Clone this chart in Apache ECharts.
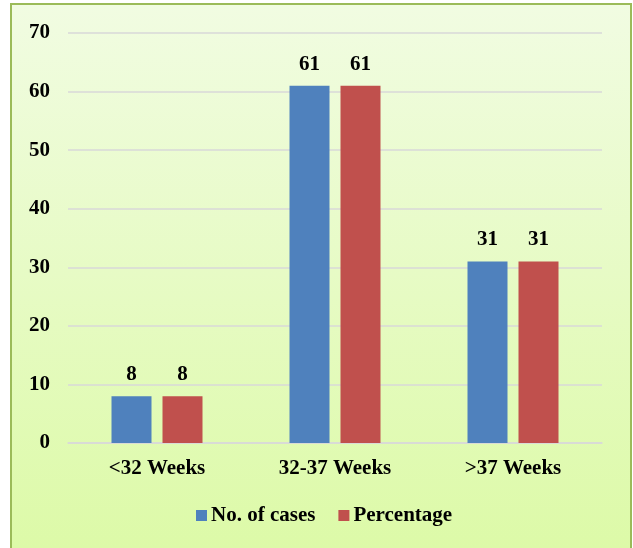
<!DOCTYPE html>
<html>
<head>
<meta charset="utf-8">
<script src="https://cdn.jsdelivr.net/npm/echarts@6/dist/echarts.min.js"></script>
<style>
  html, body { margin: 0; padding: 0; background: #fff; }
  #chart { width: 633px; height: 548px; }
</style>
</head>
<body>
<div id="chart"></div>
<script>
// data
const categories = ['<32 Weeks', '32-37 Weeks', '>37 Weeks'];
const seriesNames = ['No. of cases', 'Percentage'];
const cases = [8, 61, 31];
const percentage = [8, 61, 31];
const yTicks = [0, 10, 20, 30, 40, 50, 60, 70];

const colorList = ['#4F81BD', '#C0504D'];
const font = '"Liberation Serif", "Times New Roman", serif';

const chart = echarts.init(document.getElementById('chart'));

const barLabel = {
  show: true,
  position: 'top',
  distance: 11,
  color: '#000',
  fontFamily: font,
  fontWeight: 'bold',
  fontSize: 21
};

const option = {
  backgroundColor: '#fff',
  animation: false,
  graphic: [
    {
      type: 'rect',
      z: -10,
      silent: true,
      shape: { x: 11, y: 4, width: 620, height: 560 },
      style: {
        fill: new echarts.graphic.LinearGradient(0, 0, 0, 1, [
          { offset: 0, color: '#F1FCE2' },
          { offset: 1, color: '#DCFAA6' }
        ]),
        stroke: '#9BBB59',
        lineWidth: 2
      }
    }
  ],
  grid: {
    left: 68,
    right: 31,
    top: 33,
    bottom: 105
  },
  legend: {
    bottom: 17,
    left: 191,
    itemWidth: 11,
    itemHeight: 11,
    itemGap: 23,
    icon: 'rect',
    textStyle: {
      color: '#000',
      fontFamily: font,
      fontWeight: 'bold',
      fontSize: 21,
      padding: [0, 0, 0, -1]
    },
    data: seriesNames
  },
  xAxis: {
    type: 'category',
    data: categories,
    axisTick: { show: false },
    axisLine: { lineStyle: { color: '#D9D9D9', width: 1.5 } },
    axisLabel: {
      margin: 15,
      color: '#000',
      fontFamily: font,
      fontWeight: 'bold',
      fontSize: 21
    }
  },
  yAxis: {
    type: 'value',
    min: yTicks[0],
    max: yTicks[yTicks.length - 1],
    interval: 10,
    axisLine: { show: false },
    axisTick: { show: false },
    splitLine: { lineStyle: { color: '#D9D9D9', width: 1.5 } },
    axisLabel: {
      margin: 18,
      color: '#000',
      fontFamily: font,
      fontWeight: 'bold',
      fontSize: 21
    }
  },
  series: [
    {
      name: seriesNames[0],
      type: 'bar',
      data: cases,
      barWidth: 40,
      barGap: '27.5%',
      itemStyle: { color: colorList[0] },
      label: barLabel
    },
    {
      name: seriesNames[1],
      type: 'bar',
      data: percentage,
      barWidth: 40,
      itemStyle: { color: colorList[1] },
      label: barLabel
    }
  ]
};

chart.setOption(option);
</script>
</body>
</html>
